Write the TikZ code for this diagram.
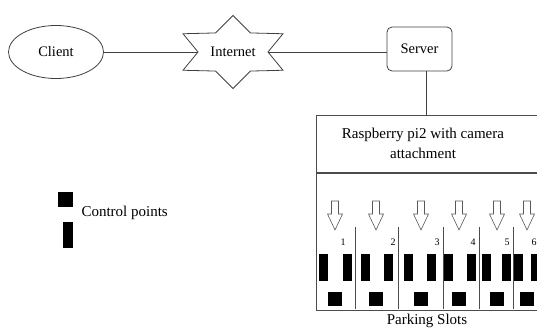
\documentclass[tikz,border=0pt]{standalone}
\usepackage{fontspec}
\setmainfont{Liberation Serif}
\usetikzlibrary{shapes.geometric}

\tikzset{
 link/.style={draw=black!75, line width=0.8pt},
 frame/.style={draw=black!70, line width=1.1pt},
 slotline/.style={draw=black!70, line width=0.7pt},
 slotarrow/.style={draw=black!65, line width=0.6pt, fill=white},
 small/.style={font=\fontsize{10}{12}\selectfont}
}

\begin{document}
\begin{tikzpicture}[x=1pt, y=-1pt, font=\fontsize{14.5}{17}\selectfont]
 \useasboundingbox (0,0) rectangle (537,329);
 % network
 \node[link, ellipse, minimum width=95pt, minimum height=53pt] (client) at (56,52) {Client};
 \node[minimum width=70pt, inner sep=0pt] (inet) at (233,52) {Internet};
 \draw[link, shift={(inet.center)}] (0:35 and 22)
  \foreach \a in {30,90,...,330} { -- (\a:57.7 and 36.5) -- (\a+30:35 and 22) } -- cycle;
 \node[link, rounded corners=5pt, minimum width=65pt, minimum height=44pt] (server) at (419.5,49) {Server};
 \draw[link] (client) -- (inet);
 \draw[link] (inet) -- (inet -| server.west);
 % raspberry pi and parking lot
 \node[frame, anchor=north west, minimum width=250pt, minimum height=57pt] (pi) at (316,114.5) {};
 \node[align=center, font=\fontsize{15}{20}\selectfont] (pitext) at (423,143) {Raspberry pi2 with camera\\attachment};
 \node[frame, anchor=north west, minimum width=250pt, minimum height=137.5pt] (lot) at (pi.south west) {};
 \coordinate (tap) at (426,0);
 \draw[link] (server.south -| tap) -- (pi.north -| tap);
 \node[font=\fontsize{15}{18}\selectfont] (lotlabel) at (427,321) {Parking Slots};
 \foreach \bl/\br/\c/\d/\n/\nx in {323/347/335/355/1/343, 365/388/376/398/2/393, 408/431/421/443/3/437,
   448/471/459/479/4/473, 486/506/497/513/5/507, 518/535/527/550/6/534} {
  \draw[slotline] (\d,227) -- (\d,309);
  \draw[slotarrow] (\c-3.5,201) -- (\c+3.5,201) -- (\c+3.5,214) -- (\c+7.5,214) -- (\c,230)
   -- (\c-7.5,214) -- (\c-3.5,214) -- cycle;
  \node[small] (num\n) at (\nx,242) {\n};
  \fill (\bl-4.5,254) rectangle (\bl+4.5,281);
  \fill (\br-4.5,254) rectangle (\br+4.5,281);
  \fill (\c-7,292) rectangle (\c+7,306);
 }
 % legend
 \fill (58,192) rectangle (73,207);
 \fill (63,222) rectangle (73,248);
 \node[right, font=\fontsize{15}{18}\selectfont] (ctrllabel) at (78,213) {Control points};
\end{tikzpicture}
\end{document}
